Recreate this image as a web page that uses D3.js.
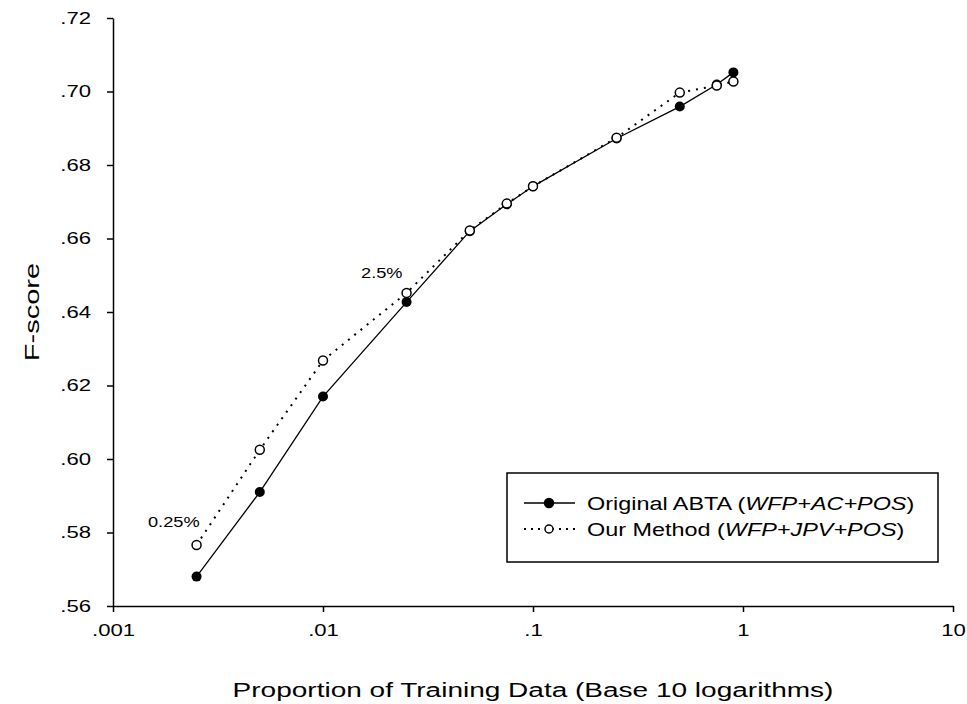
<!DOCTYPE html>
<html>
<head>
<meta charset="utf-8">
<script src="https://cdn.jsdelivr.net/npm/d3@7"></script>
<style>
  body { margin: 0; background: #fff; }
  text { font-family: "Liberation Sans", Arial, sans-serif; fill: #000; }
</style>
</head>
<body>
<div id="chart"></div>
<script>
// proportion of training data used (log axis)
const proportions = [0.0025, 0.005, 0.01, 0.025, 0.05, 0.075, 0.1, 0.25, 0.5, 0.75, 0.9];
// F-score, original ABTA (WFP+AC+POS)
const abtaScores = [0.568, 0.591, 0.617, 0.6427, 0.662, 0.6693, 0.6742, 0.6872, 0.6959, 0.7019, 0.7052];
// F-score, our method (WFP+JPV+POS)
const ourScores = [0.5766, 0.6025, 0.6268, 0.6452, 0.6622, 0.6695, 0.6742, 0.6874, 0.6997, 0.7016, 0.7027];

const xTicks = [0.001, 0.01, 0.1, 1, 10];
const xTickLabels = ['.001', '.01', '.1', '1', '10'];
const yTicks = [0.56, 0.58, 0.60, 0.62, 0.64, 0.66, 0.68, 0.70, 0.72];

const annotationLabels = ['0.25%', '2.5%'];
const annotationIndex = [0, 3]; // which point of ourScores each label belongs to

const width = 967, height = 704;
const margin = {top: 18, right: 14, bottom: 98, left: 113};

// the original is drawn in a wide, stretched sans font
function stretch(sel, k) {
  sel.each(function () {
    const w = this.getComputedTextLength();
    d3.select(this)
      .attr('textLength', w * k)
      .attr('lengthAdjust', 'spacingAndGlyphs');
  });
}

const svg = d3.select('#chart')
  .append('svg')
  .attr('width', width)
  .attr('height', height);

const x = d3.scaleLog()
  .domain([0.001, 10])
  .range([margin.left, width - margin.right]);

const y = d3.scaleLinear()
  .domain([0.56, 0.72])
  .range([height - margin.bottom, margin.top]);

// axes
const xAxis = g => g
  .attr('transform', `translate(0,${height - margin.bottom})`)
  .call(d3.axisBottom(x)
    .tickValues(xTicks)
    .tickFormat((d, i) => xTickLabels[i])
    .tickSize(6)
    .tickSizeOuter(0))
  .call(g => g.selectAll('text').attr('y', 15).attr('dy', '0.9em'));

const yAxis = g => g
  .attr('transform', `translate(${margin.left},0)`)
  .call(d3.axisLeft(y)
    .tickValues(yTicks)
    .tickFormat(d => d3.format('.2f')(d).replace(/^0/, ''))
    .tickSize(6)
    .tickSizeOuter(0))
  .call(g => g.selectAll('text').attr('x', -22));

svg.append('g').call(xAxis);
svg.append('g').call(yAxis);

svg.selectAll('.domain, .tick line')
  .attr('stroke', '#000')
  .attr('stroke-width', 1.5);
svg.selectAll('.tick text')
  .style('font-size', '17px')
  .style('font-family', '"Liberation Sans", Arial, sans-serif')
  .call(stretch, 1.3);

// axis titles
svg.append('text')
  .attr('x', (x(0.001) + x(10)) / 2)
  .attr('y', 697)
  .attr('text-anchor', 'middle')
  .style('font-size', '20px')
  .text('Proportion of Training Data (Base 10 logarithms)')
  .call(stretch, 1.4);

svg.append('text')
  .attr('transform', `translate(39,${(y(0.56) + y(0.72)) / 2}) rotate(-90)`)
  .attr('text-anchor', 'middle')
  .style('font-size', '20px')
  .text('F-score')
  .call(stretch, 1.45);

const abtaData = proportions.map((p, i) => ({p, v: abtaScores[i]}));
const ourData = proportions.map((p, i) => ({p, v: ourScores[i]}));

const line = d3.line().x(d => x(d.p)).y(d => y(d.v));

svg.append('path')
  .datum(ourData)
  .attr('fill', 'none')
  .attr('stroke', '#000')
  .attr('stroke-width', 2)
  .attr('stroke-dasharray', '2,6')
  .attr('d', line);

svg.append('path')
  .datum(abtaData)
  .attr('fill', 'none')
  .attr('stroke', '#000')
  .attr('stroke-width', 1.3)
  .attr('d', line);

svg.append('g')
  .selectAll('circle')
  .data(abtaData)
  .enter().append('circle')
  .attr('cx', d => x(d.p))
  .attr('cy', d => y(d.v))
  .attr('r', 5)
  .attr('fill', '#000');

svg.append('g')
  .selectAll('circle')
  .data(ourData)
  .enter().append('circle')
  .attr('cx', d => x(d.p))
  .attr('cy', d => y(d.v))
  .attr('r', 4.5)
  .attr('fill', '#fff')
  .attr('stroke', '#000')
  .attr('stroke-width', 1.5);

// percentage labels, placed up-left of their point
const labelOffsets = [{dx: 3, dy: -18}, {dx: -4, dy: -15}];
svg.append('g')
  .selectAll('text')
  .data(annotationLabels)
  .enter().append('text')
  .attr('x', (d, i) => x(proportions[annotationIndex[i]]) + labelOffsets[i].dx)
  .attr('y', (d, i) => y(ourScores[annotationIndex[i]]) + labelOffsets[i].dy)
  .attr('text-anchor', 'end')
  .style('font-size', '14px')
  .text(d => d)
  .call(stretch, 1.3);

// legend
const legend = svg.append('g').attr('transform', 'translate(507,473)');
legend.append('rect')
  .attr('width', 431)
  .attr('height', 89)
  .attr('fill', '#fff')
  .attr('stroke', '#000')
  .attr('stroke-width', 1.5);

const legendRows = [
  {main: 'Original ABTA (', ital: 'WFP+AC+POS', filled: true, dash: null},
  {main: 'Our Method (', ital: 'WFP+JPV+POS', filled: false, dash: '2,5'}
];

legendRows.forEach((r, i) => {
  const cy = 30 + i * 26;
  legend.append('line')
    .attr('x1', 17).attr('x2', 68)
    .attr('y1', cy).attr('y2', cy)
    .attr('stroke', '#000')
    .attr('stroke-width', r.filled ? 1.5 : 2)
    .attr('stroke-dasharray', r.dash);
  legend.append('circle')
    .attr('cx', 42).attr('cy', cy)
    .attr('r', r.filled ? 4.5 : 4)
    .attr('fill', r.filled ? '#000' : '#fff')
    .attr('stroke', '#000')
    .attr('stroke-width', 1.5);
  const t = legend.append('text')
    .attr('x', 80)
    .attr('y', cy + 7)
    .style('font-size', '18px');
  t.append('tspan').text(r.main);
  t.append('tspan').style('font-style', 'italic').text(r.ital);
  t.append('tspan').text(')');
  t.call(stretch, 1.3);
});
</script>
</body>
</html>
